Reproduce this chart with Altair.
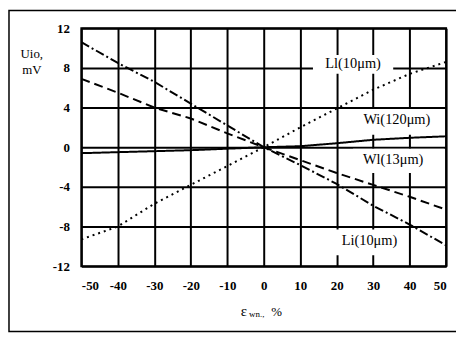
import altair as alt
import pandas as pd

# ---- data ----
strain = [-50, -40, -30, -20, -10, 0, 10, 20, 30, 40, 50]
ll_10 = [-9.3, -8.0, -5.7, -3.8, -1.9, 0.0, 2.0, 3.9, 5.8, 7.4, 8.6]
li_10 = [10.6, 8.5, 6.6, 4.4, 2.2, 0.0, -1.8, -3.7, -5.9, -7.8, -9.9]
wl_13 = [6.9, 5.5, 4.0, 2.9, 1.4, 0.0, -1.3, -2.6, -3.8, -5.0, -6.3]
wi_120 = [-0.6, -0.5, -0.4, -0.3, -0.15, 0.0, 0.1, 0.4, 0.75, 0.95, 1.1]

series_names = ["Ll", "Li", "Wl", "Wi"]
series_values = [ll_10, li_10, wl_13, wi_120]

y_ticks = [-12, -8, -4, 0, 4, 8, 12]
x_ticks = strain

label_text = ["Ll(10μm)", "Wi(120μm)", "Wl(13μm)", "Li(10μm)"]
label_x = [24.5, 36.5, 35.5, 29.0]
label_y = [8.35, 2.7, -1.3, -9.45]
box_x1 = [13.5, 24.5, 24.5, 18.5]
box_x2 = [35.5, 49.5, 49.5, 39.5]
box_y1 = [7.4, 1.25, -0.15, -8.3]
box_y2 = [9.3, 3.85, -2.6, -10.9]

# ---- tables ----
rows = []
for name, vals in zip(series_names, series_values):
    for xv, yv in zip(strain, vals):
        rows.append({"series": name, "strain": xv, "U": yv})
df = pd.DataFrame(rows)
lab_df = pd.DataFrame({"text": label_text, "x": label_x, "y": label_y})
box_df = pd.DataFrame({"x1": box_x1, "x2": box_x2, "y1": box_y1, "y2": box_y2})
one = pd.DataFrame({"a": [0]})

FONT = "Liberation Serif"
xscale = alt.Scale(domain=[-50, 50], nice=False, zero=False)
yscale = alt.Scale(domain=[-12, 12], nice=False, zero=False)
xaxis = alt.Axis(values=x_ticks, grid=True, ticks=False, domain=False, title=None,
                 labelExpr="'' + datum.value",
                 labelPadding=14, labelFont=FONT, labelFontSize=13, labelFontWeight="bold",
                 labelColor="black", gridColor="black", gridWidth=2, gridOpacity=1)
yaxis = alt.Axis(values=y_ticks, grid=True, ticks=False, domain=False, title=None,
                 labelExpr="'' + datum.value",
                 labelPadding=12, labelFont=FONT, labelFontSize=13, labelFontWeight="bold",
                 labelColor="black", gridColor="black", gridWidth=2, gridOpacity=1)

boxes = alt.Chart(box_df).mark_rect(fill="white").encode(
    x=alt.X("x1:Q", scale=xscale, axis=xaxis),
    x2="x2:Q",
    y=alt.Y("y1:Q", scale=yscale, axis=yaxis),
    y2="y2:Q",
)

lines = alt.Chart(df).mark_line(color="black").encode(
    x=alt.X("strain:Q", scale=xscale, axis=xaxis),
    y=alt.Y("U:Q", scale=yscale, axis=yaxis),
    detail="series:N",
    strokeDash=alt.StrokeDash("series:N", legend=None,
                              scale=alt.Scale(domain=series_names,
                                              range=[[2, 4], [9, 3, 2, 3], [9, 5], [1, 0]])),
    strokeWidth=alt.StrokeWidth("series:N", legend=None,
                                scale=alt.Scale(domain=series_names, range=[2, 2, 2, 1.7])),
)

labels = alt.Chart(lab_df).mark_text(font=FONT, fontSize=14.5, color="black").encode(
    x=alt.X("x:Q", scale=xscale, axis=xaxis),
    y=alt.Y("y:Q", scale=yscale, axis=yaxis),
    text="text:N",
)

frame = alt.Chart(one).mark_rect(fillOpacity=0, stroke="black", strokeWidth=1.5).encode(
    x=alt.value(-73), x2=alt.value(420), y=alt.value(-18), y2=alt.value(306)
)

def txt(s, x, y, size, align="center", baseline="alphabetic"):
    return alt.Chart(one).mark_text(text=s, font=FONT, fontSize=size, color="black",
                                    align=align, baseline=baseline).encode(
        x=alt.value(x), y=alt.value(y))

titles = (txt("Uio,", -50, 30, 13) + txt("mV", -50, 46, 13)
          + txt("ε", 164, 290, 15) + txt("wn.,", 177, 291, 9) + txt("%", 197, 290, 13))

chart = alt.layer(boxes, lines, labels, frame, titles).properties(
    width=368, height=240,
    autosize=alt.AutoSizeParams(type="none"),
    padding={"left": 74, "top": 19, "right": 10, "bottom": 68},
).configure_view(stroke="black", strokeWidth=2)

chart.save("out.html", embed_options={"renderer": "svg", "actions": False})
